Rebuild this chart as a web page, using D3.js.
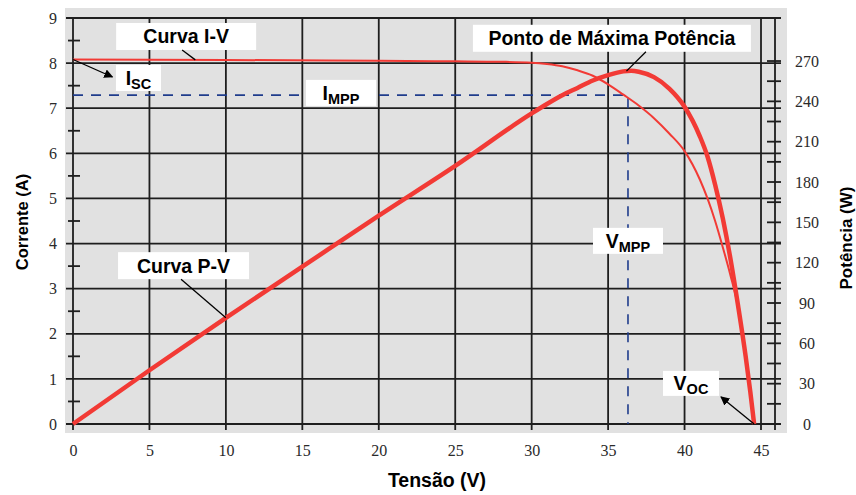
<!DOCTYPE html>
<html>
<head>
<meta charset="utf-8">
<script src="https://cdn.jsdelivr.net/npm/d3@7"></script>
<style>
  body { margin: 0; background: #fff; }
</style>
</head>
<body>
<div id="chart"></div>
<script>
// curva I-V : tensao (V) x corrente (A)
const ivVolt = [0, 10, 20, 25, 28, 30, 31, 32, 33, 34, 35, 36, 37, 38, 39, 40, 41, 41.5, 42, 42.5, 43, 43.5, 44, 44.3, 44.55];
const ivCurr = [8.08, 8.07, 8.05, 8.04, 8.03, 8.01, 7.98, 7.93, 7.84, 7.72, 7.53, 7.30, 7.06, 6.78, 6.44, 6.05, 5.42, 5.0, 4.5, 3.92, 3.3, 2.6, 1.55, 0.78, 0];

// curva P-V : tensao (V) x potencia (W)
const pvVolt = [0, 5, 10, 15, 20, 25, 30, 31, 32, 33, 34, 35, 36, 36.5, 37, 38, 39, 40, 41, 41.5, 42, 42.5, 43, 43.5, 44, 44.3, 44.55];
const pvPow = [0, 40, 79, 117, 155, 192, 231, 238, 244.5, 250, 255.5, 259.5, 262.3, 262.7, 262, 258, 249.5, 236, 214, 199, 178, 153, 123, 88, 50, 24, 0];

// pontos notaveis
const isc = 8.08;
const voc = 44.55;
const vmpp = 36.3;
const impp = 7.29;
const pmpp = 262.7;

// ticks
const xTicks = [0, 5, 10, 15, 20, 25, 30, 35, 40, 45];
const yTicks = [0, 1, 2, 3, 4, 5, 6, 7, 8, 9];
const pTicks = [0, 30, 60, 90, 120, 150, 180, 210, 240, 270];

function makeChart() {
    const width = 856;
    const height = 495;

    const sans = '"Liberation Sans", Arial, sans-serif';
    const serif = '"Liberation Serif", "Times New Roman", serif';
    const red = '#f23a35';

    const svg = d3.select('#chart')
        .append('svg')
        .attr('width', width)
        .attr('height', height);

    const scX = d3.scaleLinear().domain([0, 45]).range([73, 761]);
    const scY = d3.scaleLinear().domain([0, 9]).range([424, 18]);
    const scP = d3.scaleLinear().domain([0, 302]).range([424, 18]);
    const rightX = 775;

    // interpolacao sobre os pontos lidos
    const ivAt = d3.scaleLinear().domain(ivVolt).range(ivCurr);
    const pvAt = d3.scaleLinear().domain(pvVolt).range(pvPow);

    // fundo cinza
    svg.append('rect')
        .attr('x', 65).attr('y', 8)
        .attr('width', 722).attr('height', 425)
        .attr('fill', '#e1e1e1');

    // GRADE
    const grid = svg.append('g')
        .attr('stroke', '#1e1e1e')
        .attr('stroke-width', 1.8);

    grid.selectAll('line.h')
        .data(yTicks)
        .join('line')
        .attr('class', 'h')
        .attr('x1', scX(0) - 7).attr('x2', rightX + 6)
        .attr('y1', d => scY(d)).attr('y2', d => scY(d));

    grid.selectAll('line.v')
        .data(xTicks)
        .join('line')
        .attr('class', 'v')
        .attr('x1', d => scX(d)).attr('x2', d => scX(d))
        .attr('y1', scY(9)).attr('y2', scY(0) + 6);

    // eixo da direita
    grid.append('line')
        .attr('x1', rightX).attr('x2', rightX)
        .attr('y1', scY(9)).attr('y2', scY(0) + 6);

    // ticks menores
    grid.selectAll('line.ym')
        .data(d3.range(0.5, 9, 1))
        .join('line')
        .attr('class', 'ym')
        .attr('x1', scX(0) - 5).attr('x2', scX(0) + 7)
        .attr('y1', d => scY(d)).attr('y2', d => scY(d));

    grid.selectAll('line.pm')
        .data(pTicks.concat(d3.range(15, 270, 30)))
        .join('line')
        .attr('class', 'pm')
        .attr('x1', rightX - 8).attr('x2', rightX + 6)
        .attr('y1', d => scP(d)).attr('y2', d => scP(d));

    // linhas tracejadas do MPP
    svg.append('path')
        .attr('fill', 'none')
        .attr('stroke', '#1f3c8c')
        .attr('stroke-width', 1.6)
        .attr('stroke-dasharray', '10,8')
        .attr('d', `M${scX(0)},${scY(impp)}H${scX(vmpp)}V${scY(0)}`);

    // CURVAS
    const ivLine = d3.line()
        .x(d => scX(d[0]))
        .y(d => scY(d[1]))
        .curve(d3.curveMonotoneX);

    const pvLine = d3.line()
        .x(d => scX(d[0]))
        .y(d => scP(d[1]))
        .curve(d3.curveMonotoneX);

    svg.append('path')
        .attr('fill', 'none')
        .attr('stroke', red)
        .attr('stroke-width', 2)
        .attr('d', ivLine(d3.zip(ivVolt, ivCurr)));

    svg.append('path')
        .attr('fill', 'none')
        .attr('stroke', red)
        .attr('stroke-width', 4.5)
        .attr('stroke-linejoin', 'round')
        .attr('d', pvLine(d3.zip(pvVolt, pvPow)));

    // ROTULOS DOS EIXOS
    const axisLeft = svg.append('g')
        .attr('transform', `translate(${scX(0)},0)`)
        .call(d3.axisLeft(scY).tickValues(yTicks).tickSize(0).tickPadding(16));

    const axisBottom = svg.append('g')
        .attr('transform', `translate(0,${scY(0)})`)
        .call(d3.axisBottom(scX).tickValues(xTicks).tickSize(0).tickPadding(21));

    const axisRight = svg.append('g')
        .attr('transform', `translate(${rightX},0)`)
        .call(d3.axisRight(scP).tickValues(pTicks).tickSize(0).tickPadding(32));
    axisRight.selectAll('text').attr('text-anchor', 'middle');

    [axisLeft, axisBottom, axisRight].forEach(g => {
        g.select('.domain').remove();
        g.attr('font-family', serif).attr('font-size', 16);
        g.selectAll('text').attr('fill', '#2a2a2a');
    });

    svg.append('text')
        .attr('x', 437).attr('y', 487)
        .attr('text-anchor', 'middle')
        .attr('font-family', sans).attr('font-weight', 'bold').attr('font-size', 19.5)
        .text('Tensão (V)');

    svg.append('text')
        .attr('transform', 'translate(28,222) rotate(-90)')
        .attr('text-anchor', 'middle')
        .attr('font-family', sans).attr('font-weight', 'bold').attr('font-size', 16.5)
        .text('Corrente (A)');

    svg.append('text')
        .attr('transform', 'translate(852,238) rotate(-90)')
        .attr('text-anchor', 'middle')
        .attr('font-family', sans).attr('font-weight', 'bold').attr('font-size', 17)
        .text('Potência (W)');

    // ANOTACOES
    svg.append('defs')
        .append('marker')
        .attr('id', 'arrow')
        .attr('viewBox', '0 0 10 10')
        .attr('refX', 9).attr('refY', 5)
        .attr('markerWidth', 7).attr('markerHeight', 7)
        .attr('orient', 'auto')
        .append('path')
        .attr('d', 'M0,0L10,5L0,10z')
        .attr('fill', '#000');

    // caixa centrada em (v, i); ponteiro entre o ponto da curva e a caixa
    const notes = [
        { main: 'Curva I-V', sub: '', v: 7.4, i: 8.59, w: 140, h: 27,
          pt: [8, ivAt(8), 'i'], box: [-4, 13.5], arrow: false },
        { main: 'I', sub: 'SC', v: 4.28, i: 7.67, w: 45, h: 26,
          pt: [0, isc, 'i'], box: [-26, -1], arrow: true },
        { main: 'I', sub: 'MPP', v: 17.53, i: 7.34, w: 70, h: 26 },
        { main: 'Ponto de Máxima Potência', sub: '', v: 35.25, i: 8.55, w: 278, h: 27,
          pt: [36.2, pvAt(36.2), 'p'], box: [34, 13.5], arrow: false },
        { main: 'V', sub: 'MPP', v: 36.3, i: 4.06, w: 70, h: 26 },
        { main: 'Curva P-V', sub: '', v: 7.23, i: 3.51, w: 131, h: 27,
          pt: [10, pvAt(10), 'p'], box: [-2.5, 13.5], arrow: false },
        { main: 'V', sub: 'OC', v: 40.42, i: 0.9, w: 56, h: 25,
          pt: [voc, 0, 'i'], box: [30, 13.5], arrow: true }
    ];

    notes.forEach(n => {
        const cx = scX(n.v);
        const cy = scY(n.i);

        svg.append('rect')
            .attr('x', cx - n.w / 2).attr('y', cy - n.h / 2)
            .attr('width', n.w).attr('height', n.h)
            .attr('fill', '#fff');

        const t = svg.append('text')
            .attr('x', cx).attr('y', cy + 7)
            .attr('text-anchor', 'middle')
            .attr('font-family', sans).attr('font-weight', 'bold').attr('font-size', 19.5)
            .attr('fill', '#000');
        t.append('tspan').text(n.main);
        if (n.sub) {
            t.append('tspan').attr('font-size', 14.5).attr('dy', 4).text(n.sub);
        }

        if (n.pt) {
            const px = scX(n.pt[0]);
            const py = n.pt[2] === 'p' ? scP(n.pt[1]) : scY(n.pt[1]);
            const bx = cx + n.box[0];
            const by = cy + n.box[1];
            const line = svg.append('line')
                .attr('stroke', '#000')
                .attr('stroke-width', 1.3);
            if (n.arrow) {
                line.attr('x1', px).attr('y1', py).attr('x2', bx).attr('y2', by)
                    .attr('marker-end', 'url(#arrow)');
            } else {
                line.attr('x1', bx).attr('y1', by).attr('x2', px).attr('y2', py);
            }
        }
    });
}

makeChart();
</script>
</body>
</html>
